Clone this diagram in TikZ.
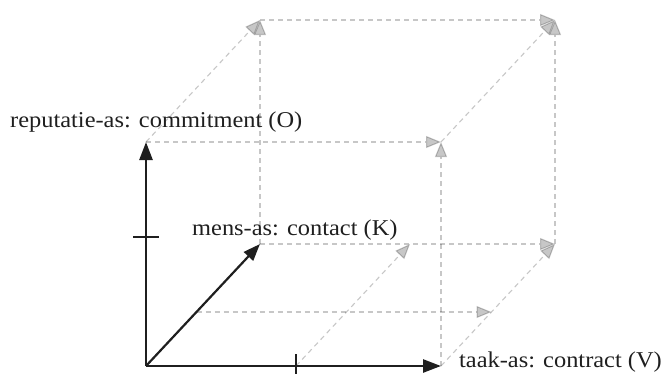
\documentclass[tikz,border=0pt]{standalone}
\usepackage{fontspec}
\setmainfont{Liberation Serif}[FakeStretch=1.08]
\usetikzlibrary{arrows.meta}
\tikzset{
  axisline/.style={line width=2.6pt, black!88},
  axisarrow/.style={axisline, -{Triangle[length=18pt,width=13pt]}},
  guide/.style={black, opacity=0.22, line width=1.1pt, dash pattern=on 5pt off 4pt,
    -{Triangle[length=15pt,width=12pt]}},
  axislabel/.style={anchor=base west, inner sep=0pt, font=\fontsize{22.6}{27}\selectfont, text=black!88}
}
\begin{document}
\begin{tikzpicture}[x=1pt,y=-1pt]
\useasboundingbox (0,0) rectangle (665,373);

% corners of the box spanned by the three axes
\coordinate (O)   at (146,366);
\coordinate (X)   at (441,366);
\coordinate (Y)   at (146,142);
\coordinate (Z)   at (260,244);
\coordinate (XY)  at (441,142);
\coordinate (XZ)  at (555,244);
\coordinate (YZ)  at (260,20);
\coordinate (XYZ) at (555,20);
% half-way points along the depth axis
\coordinate (M1)  at (196.5,312);
\coordinate (M2)  at (491.5,312);
% tick marks and the depth line leaving the task-axis tick
\coordinate (TX)  at (296,366);
\coordinate (TXd) at (410,244);
\coordinate (TYa) at (133,237);
\coordinate (TYb) at (159,237);
\coordinate (TXa) at (296,354);
\coordinate (TXb) at (296,378);

% dashed guide edges
\draw[guide] (Y) -- (XY);
\draw[guide] (X) -- (XY);
\draw[guide] (Z) -- (YZ);
\draw[guide] (Y) -- (YZ);
\draw[guide] (YZ) -- (XYZ);
\draw[guide] (XZ) -- (XYZ);
\draw[guide] (XY) -- (XYZ);
\draw[guide] (Z) -- (XZ);
\draw[guide] (X) -- (XZ);
\draw[guide] (M1) -- (M2);
\draw[guide] (TX) -- (TXd);

% the three axes
\draw[axisarrow] (O) -- (X);
\draw[axisarrow] (O) -- (Y);
\draw[axisarrow, line width=2.2pt, -{Triangle[length=17pt,width=12.5pt]}] (O) -- (Z);
\draw[axisline] (TYa) -- (TYb);
\draw[axisline] (TXa) -- (TXb);

% axis labels
\node[axislabel] (lblO) at (10,127)  {reputatie-as: commitment (O)};
\node[axislabel] (lblK) at (192,235) {mens-as: contact (K)};
\node[axislabel] (lblV) at (459,367) {taak-as: contract (V)};
\end{tikzpicture}
\end{document}
